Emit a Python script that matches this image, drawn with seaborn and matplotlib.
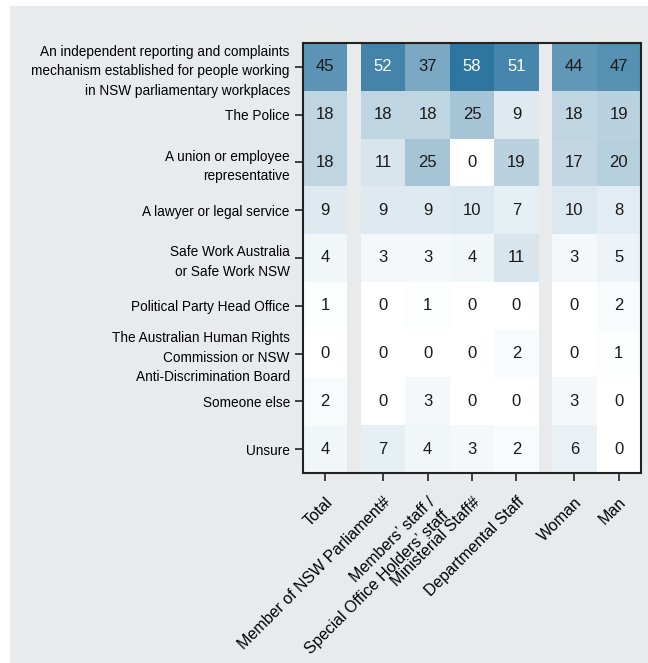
import numpy as np
import pandas as pd
import seaborn as sns
import matplotlib.pyplot as plt
from matplotlib.colors import LinearSegmentedColormap
from matplotlib.patches import Rectangle

# row labels (support options)
options = [
    "An independent reporting and complaints\nmechanism established for people working\nin NSW parliamentary workplaces",
    "The Police",
    "A union or employee\nrepresentative",
    "A lawyer or legal service",
    "Safe Work Australia\nor Safe Work NSW",
    "Political Party Head Office",
    "The Australian Human Rights\nCommission or NSW\nAnti-Discrimination Board",
    "Someone else",
    "Unsure",
]

# percentages per column
total = [45, 18, 18, 9, 4, 1, 0, 2, 4]
member_parliament = [52, 18, 11, 9, 3, 0, 0, 0, 7]
members_staff = [37, 18, 25, 9, 3, 1, 0, 3, 4]
ministerial_staff = [58, 25, 0, 10, 4, 0, 0, 0, 3]
departmental_staff = [51, 9, 19, 7, 11, 0, 2, 0, 2]
woman = [44, 18, 17, 10, 3, 0, 0, 3, 6]
man = [47, 19, 20, 8, 5, 2, 1, 0, 0]

col_labels = ["Total", "Member of NSW Parliament#",
              "Members\u2019 staff /\nSpecial Office Holders\u2019 staff",
              "Ministerial Staff#", "Departmental Staff", "Woman", "Man"]
col_values = [total, member_parliament, members_staff, ministerial_staff,
              departmental_staff, woman, man]
groups = [[0], [1, 2, 3, 4], [5, 6]]

df = pd.DataFrame(dict(zip(col_labels, col_values)), index=options)

PANEL = "#e9eaec"
cmap = LinearSegmentedColormap.from_list("blues", ["#ffffff", "#27719d"])
plt.rcParams['font.family'] = ['Liberation Sans', 'DejaVu Sans']

fig = plt.figure(figsize=(6.48, 6.63), dpi=100)
fig.patches.append(Rectangle((10 / 648, 0), 1, 657 / 663, transform=fig.transFigure,
                             facecolor=PANEL, edgecolor='none', zorder=-10))

# frame geometry (figure fractions)
axL, axB = 303 / 648, 1 - 473 / 663
axW, axH = 338 / 648, 430 / 663
gap = 0.3
span = len(col_labels) + gap * (len(groups) - 1)
unit = axW / span

centers = []
x0 = 0.0
for g in groups:
    cols = [col_labels[i] for i in g]
    sub = fig.add_axes([axL + x0 * unit, axB, len(g) * unit, axH])
    sns.heatmap(df[cols], ax=sub, cmap=cmap, vmin=0, vmax=60, cbar=False,
                annot=True, fmt="d", annot_kws={"size": 12},
                xticklabels=False, yticklabels=False)
    for t in sub.texts:
        t.set_color("white" if int(t.get_text()) >= 50 else "#1a1a1a")
    sub.set_xlabel("")
    sub.set_ylabel("")
    sub.tick_params(left=False, bottom=False)
    centers += [x0 + k + 0.5 for k in range(len(g))]
    x0 += len(g) + gap

# outer frame with ticks and labels
ax = fig.add_axes([axL, axB, axW, axH])
ax.set_facecolor("none")
ax.set_xlim(0, span)
ax.set_ylim(len(options), 0)
ax.set_xticks(centers)
ax.set_xticklabels(col_labels, rotation=45, ha="right", va="top",
                   rotation_mode="anchor", fontsize=11.5)
for t in ax.get_xticklabels():
    t.set_linespacing(1.35)
ax.set_yticks(np.arange(len(options)) + 0.5)
ax.set_yticklabels(options, fontsize=9.8)
for t in ax.get_yticklabels():
    t.set_linespacing(1.5)
ax.tick_params(axis="both", length=5.5, width=1.2, color="#222222")
ax.tick_params(axis="x", pad=10)
ax.tick_params(axis="y", pad=4)
for s in ax.spines.values():
    s.set_linewidth(1.5)
    s.set_color("#222222")

fig.savefig("out.png", dpi=100)
